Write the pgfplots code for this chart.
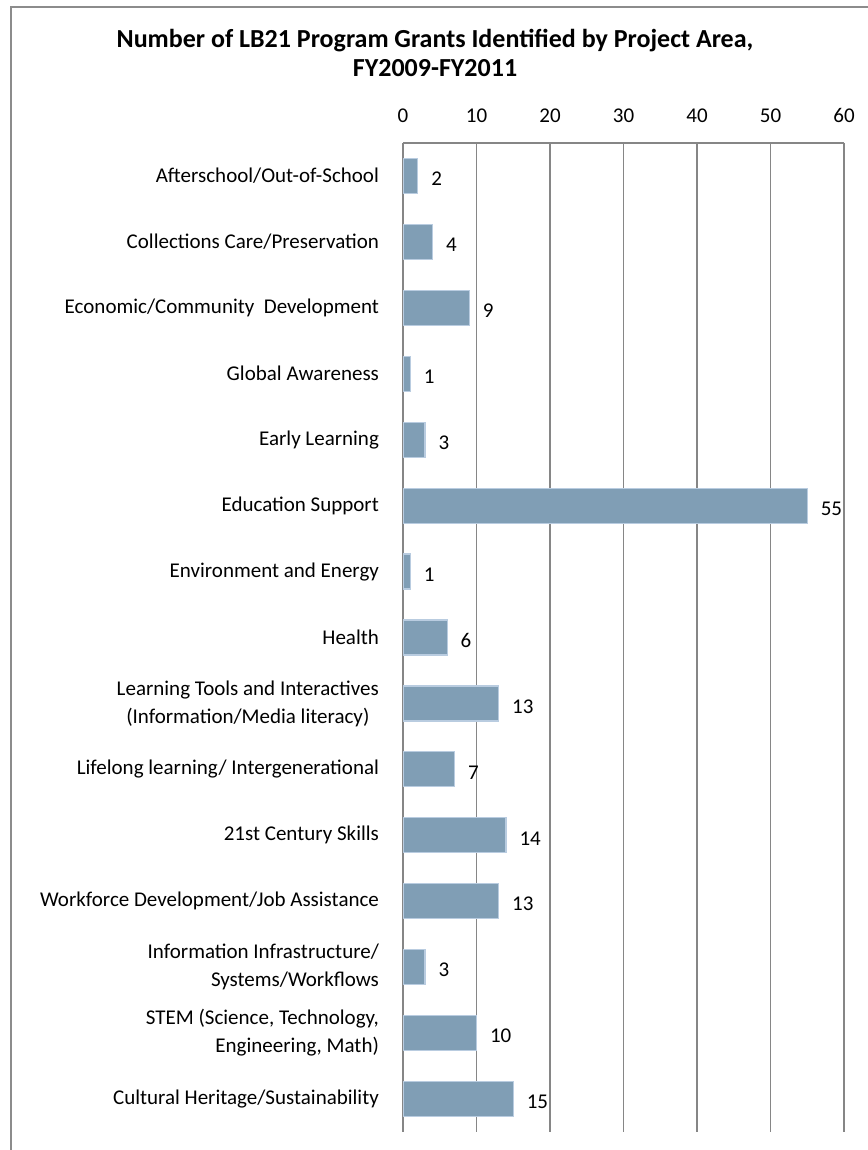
\documentclass[border=0pt]{standalone}
\usepackage{fontspec}
\setmainfont{Carlito}
\usepackage{pgfplots}
\pgfplotsset{compat=1.18}
\definecolor{barfill}{RGB}{128,158,181}
\definecolor{baredge}{RGB}{185,204,224}
\definecolor{gridgray}{RGB}{134,134,134}
\definecolor{framegray}{RGB}{140,140,140}
\begin{document}
\begin{tikzpicture}
\useasboundingbox (0,0) rectangle (433.5pt,575pt);
\draw[framegray, line width=0.75pt] (5.5pt,-20pt) rectangle (460pt,571.5pt);
\node[anchor=base, font=\fontsize{13}{15}\selectfont\bfseries] at (217.5pt,551pt) {Number of LB21 Program Grants Identified by Project Area,};
\node[anchor=base, font=\fontsize{13}{15}\selectfont\bfseries] at (217.5pt,536.5pt) {FY2009-FY2011};
\begin{axis}[
  at={(201.5pt,9pt)}, anchor=south west,
  width=220.5pt, height=494.5pt, scale only axis,
  xbar, bar width=17.5pt,
  xmin=0, xmax=60, ymin=0.5, ymax=15.5, y dir=reverse,
  axis x line*=top, axis y line*=left,
  xtick={0,10,...,60}, ytick={1,...,15},
  xmajorgrids,
  major grid style={draw=gridgray, line width=0.75pt},
  axis line style={draw=gridgray, line width=0.75pt},
  major tick length=0pt,
  /pgf/number format/assume math mode=true,
  tick label style={font=\fontsize{10.5}{14}\selectfont, text=black},
  xticklabel style={yshift=6.7pt},
  yticklabel style={align=right, xshift=-8.5pt},
  yticklabels={
    Afterschool/Out-of-School,
    Collections Care/Preservation,
    Economic/Community\ \ Development,
    Global Awareness,
    Early Learning,
    Education Support,
    Environment and Energy,
    Health,
    {\begin{tabular}{@{}c@{}}Learning Tools and Interactives\\(Information/Media literacy)\end{tabular}},
    Lifelong learning/ Intergenerational,
    21st Century Skills,
    Workforce Development/Job Assistance,
    {Information Infrastructure/\\Systems/Workflows},
    {STEM (Science, Technology,\\Engineering, Math)},
    Cultural Heritage/Sustainability
  },
  nodes near coords,
  every node near coord/.append style={anchor=west, inner sep=0pt, xshift=6.5pt, yshift=-1.5pt, font=\fontsize{10.5}{14}\selectfont, text=black},
]
\addplot[fill=barfill, draw=baredge, line width=0.6pt] coordinates {
  (2,1) (4,2) (9,3) (1,4) (3,5) (55,6) (1,7) (6,8) (13,9) (7,10) (14,11) (13,12) (3,13) (10,14) (15,15)
};
\end{axis}
\end{tikzpicture}
\end{document}
